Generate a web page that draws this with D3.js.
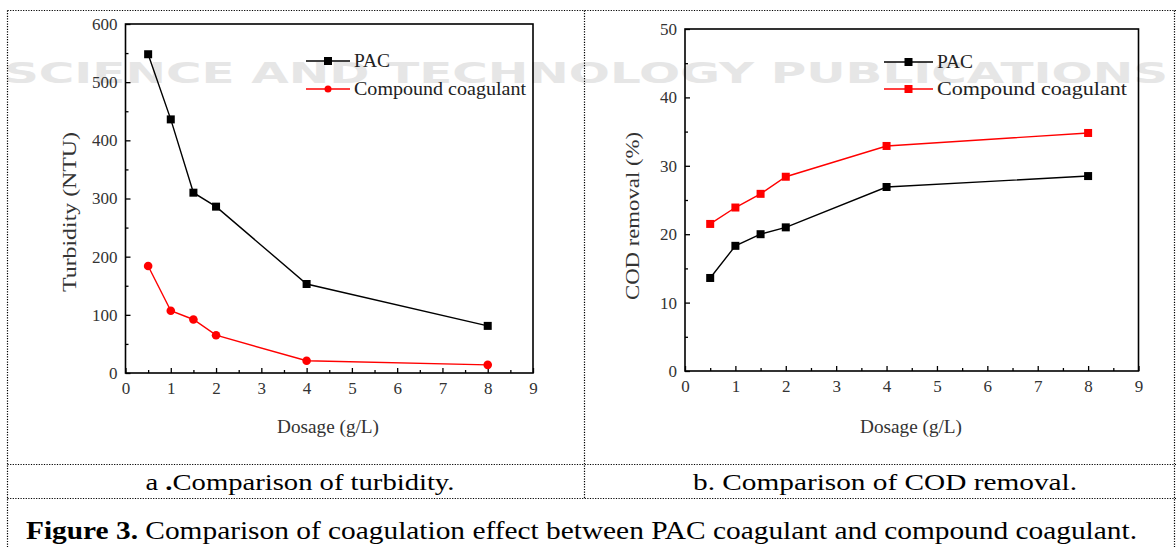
<!DOCTYPE html>
<html>
<head>
<meta charset="utf-8">
<script src="https://cdn.jsdelivr.net/npm/d3@7"></script>
<style>
  html, body { margin: 0; padding: 0; background: #fff; }
  svg { display: block; }
</style>
</head>
<body>
<svg id="chart" width="1176" height="547"></svg>
<script>
// ---------- data ----------
const dosage = [0.5, 1, 1.5, 2, 4, 8];
const turbidityPAC = [548, 436, 310, 286, 153, 81];
const turbidityCompound = [184, 107, 92, 65, 21, 14];
const codPAC = [13.6, 18.3, 20.0, 21.0, 26.9, 28.5];
const codCompound = [21.5, 23.9, 25.9, 28.4, 32.9, 34.8];
const xTickValues = [0, 1, 2, 3, 4, 5, 6, 7, 8, 9];
const turbidityTicks = [0, 100, 200, 300, 400, 500, 600];
const codTicks = [0, 10, 20, 30, 40, 50];
const seriesNames = ["PAC", "Compound coagulant"];
const captionA = "a .Comparison of turbidity.";
const captionB = "b. Comparison of COD removal.";
const figureLabel = "Figure 3.";
const figureText = " Comparison of coagulation  effect between PAC coagulant and compound coagulant.";
const watermark = "SCIENCE AND TECHNOLOGY PUBLICATIONS";

const svg = d3.select("#chart");
const serif = "'Liberation Serif', 'Times New Roman', serif";

// ---------- watermark ----------
svg.append("text")
  .attr("x", 4).attr("y", 83)
  .attr("font-family", "'DejaVu Sans', sans-serif")
  .attr("font-size", 28)
  .attr("font-weight", "bold")
  .attr("fill", "#e6e6e6")
  .attr("textLength", 1164)
  .attr("lengthAdjust", "spacingAndGlyphs")
  .text(watermark);

// ---------- table borders ----------
const dotted = (x1, y1, x2, y2) => svg.append("line")
  .attr("x1", x1).attr("y1", y1).attr("x2", x2).attr("y2", y2)
  .attr("stroke", "#000").attr("stroke-width", 1.2)
  .attr("stroke-dasharray", "1.2,1.4");
dotted(7.5, 10.5, 1176, 10.5);
dotted(7.5, 10.5, 7.5, 547);
dotted(1174.5, 10.5, 1174.5, 547);
dotted(584.5, 10.5, 584.5, 498.5);
dotted(7.5, 464.5, 1176, 464.5);
dotted(7.5, 498.5, 1176, 498.5);

// ---------- panels ----------
function drawPanel(cfg) {
  const g = svg.append("g");
  const x = d3.scaleLinear().domain([0, 9]).range([cfg.left, cfg.right]);
  const y = d3.scaleLinear().domain([0, cfg.yMax]).range([cfg.bottom, cfg.top]);

  g.append("g").attr("transform", `translate(0,${cfg.bottom})`)
    .call(d3.axisBottom(x).tickValues(xTickValues).tickSizeInner(-5).tickSizeOuter(0).tickPadding(9));
  g.append("g").attr("transform", `translate(0,${cfg.bottom})`)
    .call(d3.axisBottom(x).tickValues(xTickValues.slice(0, -1).map(v => v + 0.5))
      .tickSizeInner(-3).tickSizeOuter(0).tickFormat(""));
  g.append("g").attr("transform", `translate(${cfg.left},0)`)
    .call(d3.axisLeft(y).tickValues(cfg.yTicks).tickSizeInner(-5).tickSizeOuter(0).tickPadding(8));
  g.append("g").attr("transform", `translate(${cfg.left},0)`)
    .call(d3.axisLeft(y).tickValues(cfg.yTicks.slice(0, -1).map(v => v + cfg.yTicks[1] / 2))
      .tickSizeInner(-3).tickSizeOuter(0).tickFormat(""));
  g.selectAll(".domain").remove();
  g.selectAll(".tick line").attr("stroke", "#000").attr("stroke-width", 1.3);
  g.selectAll(".tick text").attr("font-family", serif).attr("font-size", 17).attr("fill", "#333");

  g.append("rect")
    .attr("x", cfg.left).attr("y", cfg.top)
    .attr("width", cfg.right - cfg.left).attr("height", cfg.bottom - cfg.top)
    .attr("fill", "none").attr("stroke", "#000").attr("stroke-width", 1.6);

  g.append("text")
    .attr("x", cfg.xTitleX).attr("y", 433)
    .attr("text-anchor", "middle")
    .attr("font-family", serif).attr("font-size", 18).attr("fill", "#333")
    .attr("textLength", 102).attr("lengthAdjust", "spacingAndGlyphs")
    .text("Dosage (g/L)");
  g.append("text")
    .attr("transform", `translate(${cfg.yTitleX},${cfg.yTitleY}) rotate(-90)`)
    .attr("text-anchor", "middle").attr("dominant-baseline", "central")
    .attr("font-family", serif).attr("font-size", 19).attr("fill", "#333")
    .attr("textLength", cfg.yTitleLen).attr("lengthAdjust", "spacingAndGlyphs")
    .text(cfg.yTitle);

  const line = d3.line().x(d => x(d[0])).y(d => y(d[1]));
  cfg.series.forEach(s => {
    const pts = dosage.map((d, i) => [d, s.values[i]]);
    g.append("path").datum(pts)
      .attr("d", line).attr("fill", "none")
      .attr("stroke", s.color).attr("stroke-width", 1.4);
    if (s.shape === "square") {
      g.selectAll(null).data(pts).enter().append("rect")
        .attr("x", d => x(d[0]) - 4).attr("y", d => y(d[1]) - 4)
        .attr("width", 8).attr("height", 8).attr("fill", s.color);
    } else {
      g.selectAll(null).data(pts).enter().append("circle")
        .attr("cx", d => x(d[0])).attr("cy", d => y(d[1]))
        .attr("r", 4.3).attr("fill", s.color);
    }
  });

  cfg.series.forEach((s, i) => {
    const ly = cfg.legendY[i];
    g.append("line")
      .attr("x1", cfg.legendX1).attr("x2", cfg.legendX2)
      .attr("y1", ly).attr("y2", ly)
      .attr("stroke", s.color).attr("stroke-width", 1.6);
    const mx = (cfg.legendX1 + cfg.legendX2) / 2;
    if (s.legendShape === "square") {
      g.append("rect").attr("x", mx - 4).attr("y", ly - 4).attr("width", 8).attr("height", 8).attr("fill", s.color);
    } else {
      g.append("circle").attr("cx", mx).attr("cy", ly).attr("r", 3.5).attr("fill", s.color);
    }
    g.append("text")
      .attr("x", cfg.legendX2 + 4).attr("y", ly)
      .attr("dominant-baseline", "central")
      .attr("font-family", serif).attr("font-size", 18).attr("fill", "#222")
      .attr("textLength", cfg.legendLens[i]).attr("lengthAdjust", "spacingAndGlyphs")
      .text(seriesNames[i]);
  });
}

drawPanel({
  left: 125.5, right: 533, top: 24, bottom: 373, yMax: 600,
  yTicks: turbidityTicks,
  xTitleX: 328, yTitleX: 69, yTitleY: 212, yTitleLen: 160,
  yTitle: "Turbidity (NTU)",
  legendX1: 306, legendX2: 350, legendY: [61, 89], legendLens: [36, 172],
  series: [
    { values: turbidityPAC, color: "#000", shape: "square", legendShape: "square" },
    { values: turbidityCompound, color: "#f00", shape: "circle", legendShape: "circle" }
  ]
});

drawPanel({
  left: 685, right: 1138.5, top: 29, bottom: 371, yMax: 50,
  yTicks: codTicks,
  xTitleX: 911, yTitleX: 632, yTitleY: 216, yTitleLen: 168,
  yTitle: "COD removal (%)",
  legendX1: 884, legendX2: 933, legendY: [62, 89], legendLens: [36, 190],
  series: [
    { values: codPAC, color: "#000", shape: "square", legendShape: "square" },
    { values: codCompound, color: "#f00", shape: "square", legendShape: "square" }
  ]
});

// ---------- captions ----------
const capA = svg.append("text")
  .attr("x", 300).attr("y", 490).attr("text-anchor", "middle")
  .attr("font-family", serif).attr("font-size", 24).attr("fill", "#000")
  .attr("textLength", 309).attr("lengthAdjust", "spacingAndGlyphs");
capA.append("tspan").text("a ");
capA.append("tspan").attr("font-weight", "bold").text(".");
capA.append("tspan").text(captionA.slice(3));

svg.append("text")
  .attr("x", 885).attr("y", 490).attr("text-anchor", "middle")
  .attr("font-family", serif).attr("font-size", 24).attr("fill", "#000")
  .attr("textLength", 384).attr("lengthAdjust", "spacingAndGlyphs")
  .text(captionB);

const fig = svg.append("text")
  .attr("x", 26).attr("y", 539)
  .attr("font-family", serif).attr("font-size", 25).attr("fill", "#000")
  .attr("textLength", 1111).attr("lengthAdjust", "spacingAndGlyphs");
fig.append("tspan").attr("font-weight", "bold").text(figureLabel);
fig.append("tspan").text(figureText);
</script>
</body>
</html>
